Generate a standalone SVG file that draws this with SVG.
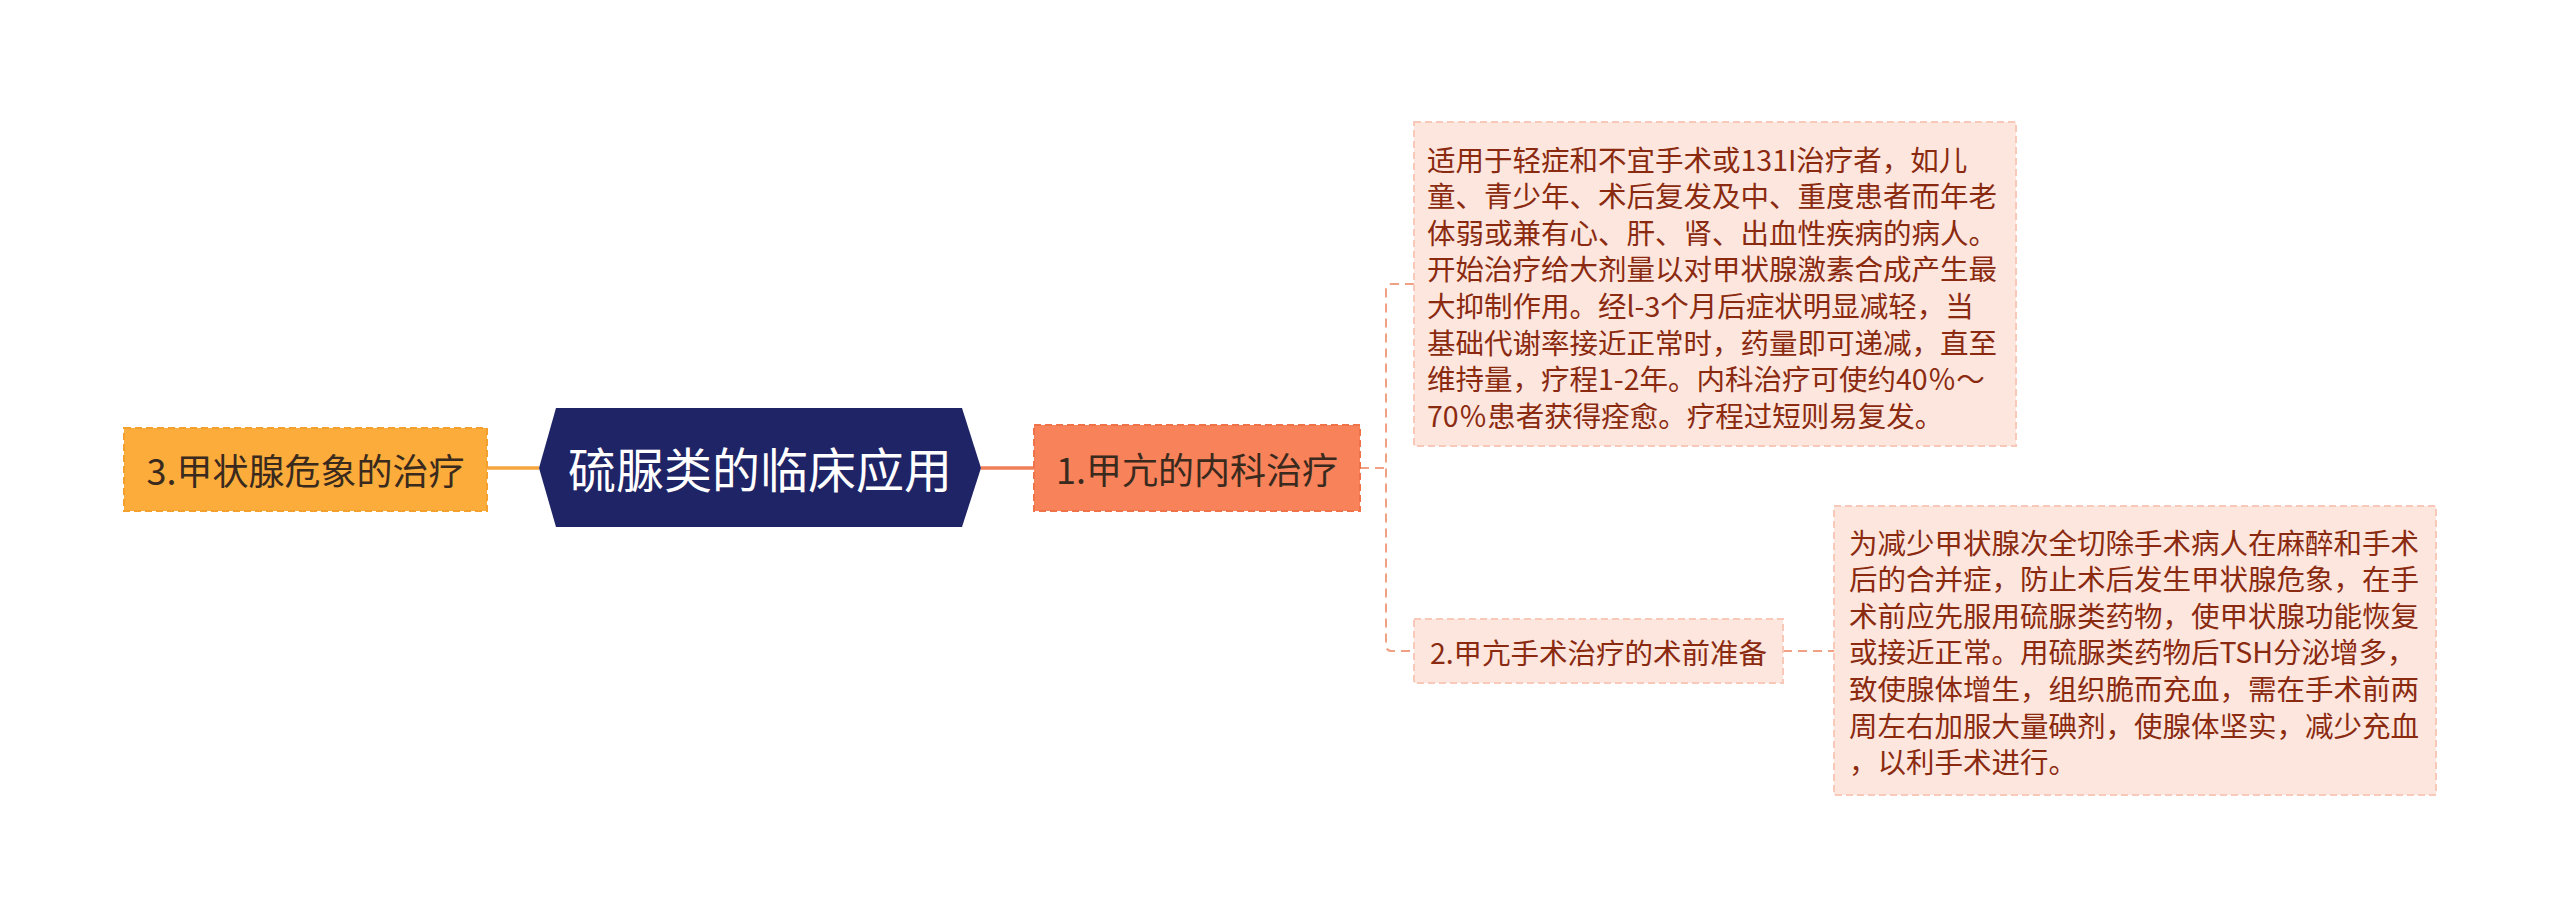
<svg xmlns="http://www.w3.org/2000/svg" width="2560" height="918" viewBox="0 0 2560 918">
<style>
text{font-family:"Noto Sans CJK SC","Liberation Sans",sans-serif;dominant-baseline:central}
.lbl{font-size:36px;fill:#3a2a1e;text-anchor:middle}
.pink{fill:#fde6dd;stroke:#f8c9b8;stroke-width:2;stroke-dasharray:7 4}
.ptxt{font-size:28.5px;fill:#8a2a10}
.br{fill:none;stroke:#f0a083;stroke-width:2;stroke-dasharray:9 6}
</style>
<rect width="2560" height="918" fill="#ffffff"/>
<g id="connectors">
<line x1="487" y1="468" x2="539" y2="468" stroke="#f6a63c" stroke-width="3.5"/>
<line x1="981" y1="468" x2="1034" y2="468" stroke="#f07e58" stroke-width="3.5"/>
<path class="br" d="M1360 468 H1386 M1414 284 H1392 Q1386 284 1386 290 V645 Q1386 651 1392 651 H1414"/>
<line class="br" x1="1783" y1="651" x2="1834" y2="651"/>
</g>
<g id="node-left">
<rect x="124" y="428" width="363" height="83" fill="#fbac3a" stroke="#f4a02c" stroke-width="2" stroke-dasharray="7 4"/>
<text class="lbl" x="305.5" y="469">3.甲状腺危象的治疗</text>
</g>
<g id="node-center">
<polygon points="539,468 556,408 962,408 981,468 962,527 556,527" fill="#1f2466"/>
<text x="760" y="467" font-size="48" fill="#ffffff" text-anchor="middle">硫脲类的临床应用</text>
</g>
<g id="node-1">
<rect x="1034" y="425" width="326" height="86" fill="#f8825a" stroke="#f07248" stroke-width="2" stroke-dasharray="7 4"/>
<text class="lbl" x="1197" y="468">1.甲亢的内科治疗</text>
</g>
<g id="node-1a">
<rect class="pink" x="1414" y="122" width="602" height="324"/>
<text class="ptxt" x="1427" y="158">适用于轻症和不宜手术或131I治疗者，如儿</text>
<text class="ptxt" x="1427" y="194.6">童、青少年、术后复发及中、重度患者而年老</text>
<text class="ptxt" x="1427" y="231.2">体弱或兼有心、肝、肾、出血性疾病的病人。</text>
<text class="ptxt" x="1427" y="267.8">开始治疗给大剂量以对甲状腺激素合成产生最</text>
<text class="ptxt" x="1427" y="304.4">大抑制作用。经l-3个月后症状明显减轻，当</text>
<text class="ptxt" x="1427" y="341">基础代谢率接近正常时，药量即可递减，直至</text>
<text class="ptxt" x="1427" y="377.6">维持量，疗程1-2年。内科治疗可使约40％～</text>
<text class="ptxt" x="1427" y="414.2">70％患者获得痊愈。疗程过短则易复发。</text>
</g>
<g id="node-2">
<rect class="pink" x="1414" y="619" width="369" height="64"/>
<text class="ptxt" x="1598.5" y="651" text-anchor="middle">2.甲亢手术治疗的术前准备</text>
</g>
<g id="node-2a">
<rect class="pink" x="1834" y="506" width="602" height="289"/>
<text class="ptxt" x="1849" y="541">为减少甲状腺次全切除手术病人在麻醉和手术</text>
<text class="ptxt" x="1849" y="577.6">后的合并症，防止术后发生甲状腺危象，在手</text>
<text class="ptxt" x="1849" y="614.2">术前应先服用硫脲类药物，使甲状腺功能恢复</text>
<text class="ptxt" x="1849" y="650.8">或接近正常。用硫脲类药物后TSH分泌增多，</text>
<text class="ptxt" x="1849" y="687.4">致使腺体增生，组织脆而充血，需在手术前两</text>
<text class="ptxt" x="1849" y="724">周左右加服大量碘剂，使腺体坚实，减少充血</text>
<text class="ptxt" x="1849" y="760.6">，以利手术进行。</text>
</g>
</svg>
